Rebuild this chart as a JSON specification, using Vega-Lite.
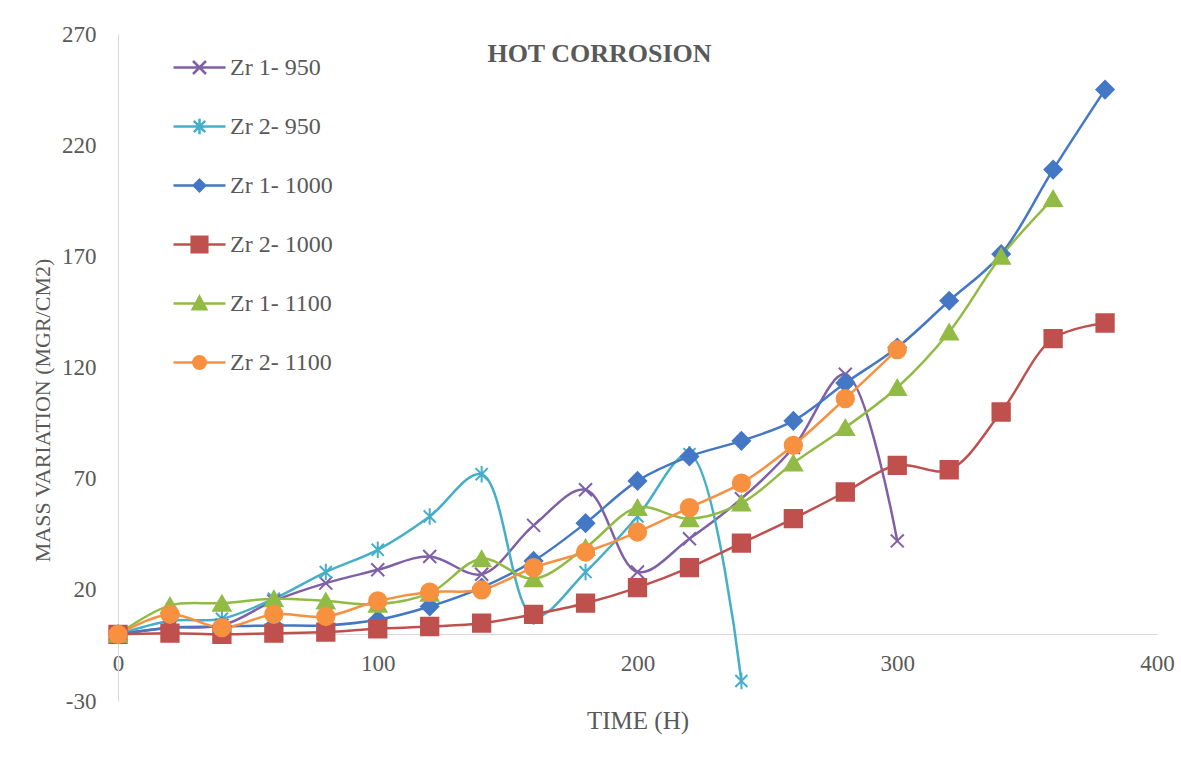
{
  "$schema": "https://vega.github.io/schema/vega-lite/v6.json",
  "width": 1039,
  "height": 667,
  "autosize": {"type": "none"},
  "padding": {"left": 118, "top": 34, "right": 24, "bottom": 67},
  "background": "white",
  "config": {"view": {"stroke": null}, "font": "Liberation Serif"},
  "title": {
    "text": "HOT CORROSION",
    "font": "Liberation Serif",
    "fontSize": 26,
    "fontWeight": "bold",
    "color": "#595959",
    "anchor": "middle",
    "offset": -44,
    "dx": -38
  },
  "data": {
    "values": [
      {"series": "Zr 1- 950", "t": 0, "v": 0},
      {"series": "Zr 1- 950", "t": 20, "v": 3},
      {"series": "Zr 1- 950", "t": 40, "v": 4},
      {"series": "Zr 1- 950", "t": 60, "v": 15},
      {"series": "Zr 1- 950", "t": 80, "v": 23},
      {"series": "Zr 1- 950", "t": 100, "v": 29},
      {"series": "Zr 1- 950", "t": 120, "v": 35},
      {"series": "Zr 1- 950", "t": 140, "v": 27},
      {"series": "Zr 1- 950", "t": 160, "v": 49},
      {"series": "Zr 1- 950", "t": 180, "v": 65},
      {"series": "Zr 1- 950", "t": 200, "v": 28},
      {"series": "Zr 1- 950", "t": 220, "v": 43},
      {"series": "Zr 1- 950", "t": 240, "v": 61},
      {"series": "Zr 1- 950", "t": 260, "v": 84},
      {"series": "Zr 1- 950", "t": 280, "v": 117},
      {"series": "Zr 1- 950", "t": 300, "v": 42},
      {"series": "Zr 2- 950", "t": 0, "v": 0},
      {"series": "Zr 2- 950", "t": 20, "v": 6},
      {"series": "Zr 2- 950", "t": 40, "v": 7},
      {"series": "Zr 2- 950", "t": 60, "v": 16},
      {"series": "Zr 2- 950", "t": 80, "v": 28},
      {"series": "Zr 2- 950", "t": 100, "v": 38},
      {"series": "Zr 2- 950", "t": 120, "v": 53},
      {"series": "Zr 2- 950", "t": 140, "v": 72},
      {"series": "Zr 2- 950", "t": 160, "v": 8},
      {"series": "Zr 2- 950", "t": 180, "v": 28},
      {"series": "Zr 2- 950", "t": 200, "v": 53},
      {"series": "Zr 2- 950", "t": 220, "v": 81},
      {"series": "Zr 2- 950", "t": 240, "v": -21},
      {"series": "Zr 1- 1000", "t": 0, "v": 0},
      {"series": "Zr 1- 1000", "t": 20, "v": 3},
      {"series": "Zr 1- 1000", "t": 40, "v": 3.5},
      {"series": "Zr 1- 1000", "t": 60, "v": 4},
      {"series": "Zr 1- 1000", "t": 80, "v": 4},
      {"series": "Zr 1- 1000", "t": 100, "v": 6.5},
      {"series": "Zr 1- 1000", "t": 120, "v": 12.5},
      {"series": "Zr 1- 1000", "t": 140, "v": 21},
      {"series": "Zr 1- 1000", "t": 160, "v": 33},
      {"series": "Zr 1- 1000", "t": 180, "v": 50},
      {"series": "Zr 1- 1000", "t": 200, "v": 69},
      {"series": "Zr 1- 1000", "t": 220, "v": 80},
      {"series": "Zr 1- 1000", "t": 240, "v": 87},
      {"series": "Zr 1- 1000", "t": 260, "v": 96},
      {"series": "Zr 1- 1000", "t": 280, "v": 113},
      {"series": "Zr 1- 1000", "t": 300, "v": 129},
      {"series": "Zr 1- 1000", "t": 320, "v": 150},
      {"series": "Zr 1- 1000", "t": 340, "v": 171},
      {"series": "Zr 1- 1000", "t": 360, "v": 209},
      {"series": "Zr 1- 1000", "t": 380, "v": 245},
      {"series": "Zr 2- 1000", "t": 0, "v": 0},
      {"series": "Zr 2- 1000", "t": 20, "v": 0.5},
      {"series": "Zr 2- 1000", "t": 40, "v": 0},
      {"series": "Zr 2- 1000", "t": 60, "v": 0.5},
      {"series": "Zr 2- 1000", "t": 80, "v": 1},
      {"series": "Zr 2- 1000", "t": 100, "v": 2.5},
      {"series": "Zr 2- 1000", "t": 120, "v": 3.5},
      {"series": "Zr 2- 1000", "t": 140, "v": 5},
      {"series": "Zr 2- 1000", "t": 160, "v": 9},
      {"series": "Zr 2- 1000", "t": 180, "v": 14},
      {"series": "Zr 2- 1000", "t": 200, "v": 21},
      {"series": "Zr 2- 1000", "t": 220, "v": 30},
      {"series": "Zr 2- 1000", "t": 240, "v": 41},
      {"series": "Zr 2- 1000", "t": 260, "v": 52},
      {"series": "Zr 2- 1000", "t": 280, "v": 64},
      {"series": "Zr 2- 1000", "t": 300, "v": 76},
      {"series": "Zr 2- 1000", "t": 320, "v": 74},
      {"series": "Zr 2- 1000", "t": 340, "v": 100},
      {"series": "Zr 2- 1000", "t": 360, "v": 133},
      {"series": "Zr 2- 1000", "t": 380, "v": 140},
      {"series": "Zr 1- 1100", "t": 0, "v": 0},
      {"series": "Zr 1- 1100", "t": 20, "v": 13},
      {"series": "Zr 1- 1100", "t": 40, "v": 14},
      {"series": "Zr 1- 1100", "t": 60, "v": 16},
      {"series": "Zr 1- 1100", "t": 80, "v": 15},
      {"series": "Zr 1- 1100", "t": 100, "v": 13.5},
      {"series": "Zr 1- 1100", "t": 120, "v": 18.5},
      {"series": "Zr 1- 1100", "t": 140, "v": 34},
      {"series": "Zr 1- 1100", "t": 160, "v": 25},
      {"series": "Zr 1- 1100", "t": 180, "v": 39},
      {"series": "Zr 1- 1100", "t": 200, "v": 57},
      {"series": "Zr 1- 1100", "t": 220, "v": 52},
      {"series": "Zr 1- 1100", "t": 240, "v": 59},
      {"series": "Zr 1- 1100", "t": 260, "v": 77},
      {"series": "Zr 1- 1100", "t": 280, "v": 93},
      {"series": "Zr 1- 1100", "t": 300, "v": 111},
      {"series": "Zr 1- 1100", "t": 320, "v": 136},
      {"series": "Zr 1- 1100", "t": 340, "v": 170},
      {"series": "Zr 1- 1100", "t": 360, "v": 196},
      {"series": "Zr 2- 1100", "t": 0, "v": 0},
      {"series": "Zr 2- 1100", "t": 20, "v": 9},
      {"series": "Zr 2- 1100", "t": 40, "v": 3},
      {"series": "Zr 2- 1100", "t": 60, "v": 9},
      {"series": "Zr 2- 1100", "t": 80, "v": 8},
      {"series": "Zr 2- 1100", "t": 100, "v": 15},
      {"series": "Zr 2- 1100", "t": 120, "v": 19},
      {"series": "Zr 2- 1100", "t": 140, "v": 20},
      {"series": "Zr 2- 1100", "t": 160, "v": 30},
      {"series": "Zr 2- 1100", "t": 180, "v": 37},
      {"series": "Zr 2- 1100", "t": 200, "v": 46},
      {"series": "Zr 2- 1100", "t": 220, "v": 57},
      {"series": "Zr 2- 1100", "t": 240, "v": 68},
      {"series": "Zr 2- 1100", "t": 260, "v": 85},
      {"series": "Zr 2- 1100", "t": 280, "v": 106},
      {"series": "Zr 2- 1100", "t": 300, "v": 128}
    ]
  },
  "encoding": {
    "x": {
      "field": "t",
      "type": "quantitative",
      "scale": {"domain": [0, 400], "nice": false, "zero": false},
      "axis": {
        "title": "TIME (H)",
        "values": [0, 100, 200, 300, 400],
        "offset": -67,
        "grid": false,
        "ticks": false,
        "domainColor": "#d9d9d9",
        "domainWidth": 1,
        "labelFont": "Liberation Serif",
        "labelFontSize": 23,
        "labelColor": "#595959",
        "labelPadding": 18,
        "labelFlush": false,
        "titleFont": "Liberation Serif",
        "titleFontSize": 25,
        "titleFontWeight": "normal",
        "titleColor": "#595959",
        "titleBaseline": "middle",
        "titleY": 86
      }
    },
    "y": {
      "field": "v",
      "type": "quantitative",
      "scale": {"domain": [-30, 270], "nice": false, "zero": false},
      "axis": {
        "title": "MASS VARIATION (MGR/CM2)",
        "values": [-30, 20, 70, 120, 170, 220, 270],
        "labelExpr": "replace(datum.label, '\u2212', '-')",
        "grid": false,
        "ticks": false,
        "domainColor": "#d9d9d9",
        "domainWidth": 1,
        "labelFont": "Liberation Serif",
        "labelFontSize": 23,
        "labelColor": "#595959",
        "labelPadding": 22,
        "labelFlush": false,
        "titleFont": "Liberation Serif",
        "titleFontSize": 22,
        "titleFontWeight": "normal",
        "titleColor": "#595959",
        "titleAlign": "center",
        "titleBaseline": "middle",
        "titleX": -76,
        "titleY": 376
      }
    }
  },
  "layer": [
    {
      "mark": {"type": "line", "interpolate": "catmull-rom", "strokeWidth": 2.5},
      "encoding": {
        "stroke": {
          "field": "series",
          "type": "nominal",
          "scale": {
            "domain": ["Zr 1- 950", "Zr 2- 950", "Zr 1- 1000", "Zr 2- 1000", "Zr 1- 1100", "Zr 2- 1100"],
            "range": ["#7f60a8", "#45aec8", "#4477c4", "#c0504d", "#91bb45", "#f7913f"]
          }
        }
      }
    },
    {
      "mark": {"type": "point", "filled": true, "opacity": 1, "size": 300, "strokeWidth": 2},
      "encoding": {
        "stroke": {
          "field": "series",
          "type": "nominal",
          "scale": {
            "domain": ["Zr 1- 950", "Zr 2- 950", "Zr 1- 1000", "Zr 2- 1000", "Zr 1- 1100", "Zr 2- 1100"],
            "range": ["#7f60a8", "#45aec8", "#4477c4", "#c0504d", "#91bb45", "#f7913f"]
          },
          "legend": {
            "orient": "none",
            "legendX": 54,
            "legendY": 6,
            "title": null,
            "padding": 0,
            "labelFont": "Liberation Serif",
            "labelFontSize": 24,
            "labelColor": "#595959",
            "labelOffset": 3,
            "symbolSize": 2704,
            "symbolStrokeWidth": 2.5,
            "rowPadding": -8.5,
            "symbolType": {"expr": "datum.value == 'Zr 1- 950' ? 'M-1,0H1M-0.25,-0.25L0.25,0.25M-0.25,0.25L0.25,-0.25M0,-1L0,-1M0,1L0,1' : datum.value == 'Zr 2- 950' ? 'M-1,0H1M-0.22,-0.22L0.22,0.22M-0.22,0.22L0.22,-0.22M0,-0.3V0.3M0,-1L0,-1M0,1L0,1' : datum.value == 'Zr 1- 1000' ? 'M-1,0H1M0,-0.22L0.22,0L0,0.22L-0.22,0ZM0,-1L0,-1M0,1L0,1' : datum.value == 'Zr 2- 1000' ? 'M-1,0H1M-0.3,-0.3H0.3V0.3H-0.3ZM0,-1L0,-1M0,1L0,1' : datum.value == 'Zr 1- 1100' ? 'M-1,0H1M0,-0.26L0.26,0.22H-0.26ZM0,-1L0,-1M0,1L0,1' : 'M-1,0H1M0.24,0A0.24,0.24,0,1,1,-0.24,0A0.24,0.24,0,1,1,0.24,0ZM0,-1L0,-1M0,1L0,1'"}
          }
        },
        "fill": {
          "field": "series",
          "type": "nominal",
          "scale": {
            "domain": ["Zr 1- 950", "Zr 2- 950", "Zr 1- 1000", "Zr 2- 1000", "Zr 1- 1100", "Zr 2- 1100"],
            "range": ["#7f60a8", "#45aec8", "#4477c4", "#c0504d", "#91bb45", "#f7913f"]
          }
        },
        "shape": {
          "field": "series",
          "type": "nominal",
          "legend": null,
          "scale": {
            "domain": ["Zr 2- 1100", "Zr 1- 1100", "Zr 2- 1000", "Zr 1- 1000", "Zr 2- 950", "Zr 1- 950"],
            "range": [
              "circle",
              "triangle-up",
              "square",
              "diamond",
              "M-0.7,-0.7L0.7,0.7M-0.7,0.7L0.7,-0.7M0,-0.95V0.95",
              "M-0.75,-0.75L0.75,0.75M-0.75,0.75L0.75,-0.75"
            ]
          }
        }
      }
    }
  ]
}
